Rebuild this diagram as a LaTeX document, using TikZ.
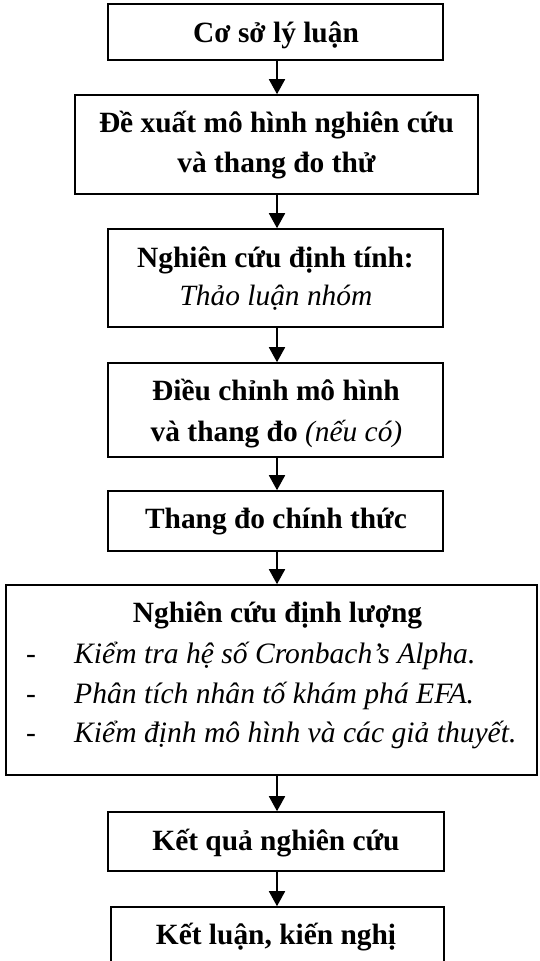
\documentclass[tikz,border=0pt]{standalone}
\usepackage{fontspec}
\setmainfont{Liberation Serif}
\usetikzlibrary{arrows.meta}
\begin{document}
\begin{tikzpicture}[x=1pt,y=-1pt,
  box/.style={draw, line width=1.6pt, inner sep=0pt},
  txt/.style={inner sep=0pt, anchor=base, font=\fontsize{29.4}{40}\selectfont\bfseries},
  itm/.style={inner sep=0pt, anchor=base west, font=\fontsize{29.6}{40}\selectfont},
  arr/.style={line width=1.8pt, -{Triangle[width=16pt,length=15pt]}}]
\useasboundingbox (0,0) rectangle (539,961);
% boxes
\node[box, minimum width=335pt, minimum height=56pt] (b1) at (275.5,32) {};
\node[box, minimum width=403pt, minimum height=99pt] (b2) at (276.5,144.5) {};
\node[box, minimum width=335pt, minimum height=98pt] (b3) at (275.5,278) {};
\node[box, minimum width=335pt, minimum height=94pt] (b4) at (275.5,410) {};
\node[box, minimum width=335pt, minimum height=60pt] (b5) at (275.5,521) {};
\node[box, minimum width=531pt, minimum height=190pt] (b6) at (271.5,680) {};
\node[box, minimum width=336pt, minimum height=59pt] (b7) at (276,841.5) {};
\node[box, minimum width=333pt, minimum height=59pt] (b8) at (277.5,936.5) {};
% texts
\node[txt] (t1) at (276,42) {Cơ sở lý luận};
\node[txt] (t2a) at (276.5,132) {Đề xuất mô hình nghiên cứu};
\node[txt] (t2b) at (276.5,172) {và thang đo thử};
\node[txt] (t3a) at (275.5,267) {Nghiên cứu định tính:};
\node[txt] (t3b) at (276,305) {\mdseries\itshape Thảo luận nhóm};
\node[txt] (t4a) at (276,400) {Điều chỉnh mô hình};
\node[txt] (t4b) at (276.5,441) {và thang đo {\mdseries\itshape (nếu có)}};
\node[txt] (t5) at (276,528) {Thang đo chính thức};
\node[txt] (t6) at (277.5,622) {Nghiên cứu định lượng};
\node[itm] (d1) at (26,663) {-};
\node[itm] (d2) at (26,703) {-};
\node[itm] (d3) at (26,742) {-};
\node[itm] (l1) at (74,663) {\itshape Kiểm tra hệ số Cronbach’s Alpha.};
\node[itm] (l2) at (74,703) {\itshape Phân tích nhân tố khám phá EFA.};
\node[itm] (l3) at (74,742) {\itshape Kiểm định mô hình và các giả thuyết.};
\node[txt] (t7) at (276,850) {Kết quả nghiên cứu};
\node[txt] (t8) at (276,944) {Kết luận, kiến nghị};
% arrows
\coordinate (ax) at (277,0);
\draw[arr] (b1.south -| ax) -- (b2.north -| ax);
\draw[arr] (b2.south -| ax) -- (b3.north -| ax);
\draw[arr] (b3.south -| ax) -- (b4.north -| ax);
\draw[arr] (b4.south -| ax) -- (b5.north -| ax);
\draw[arr] (b5.south -| ax) -- (b6.north -| ax);
\draw[arr] (b6.south -| ax) -- (b7.north -| ax);
\draw[arr] (b7.south -| ax) -- (b8.north -| ax);
\end{tikzpicture}
\end{document}
